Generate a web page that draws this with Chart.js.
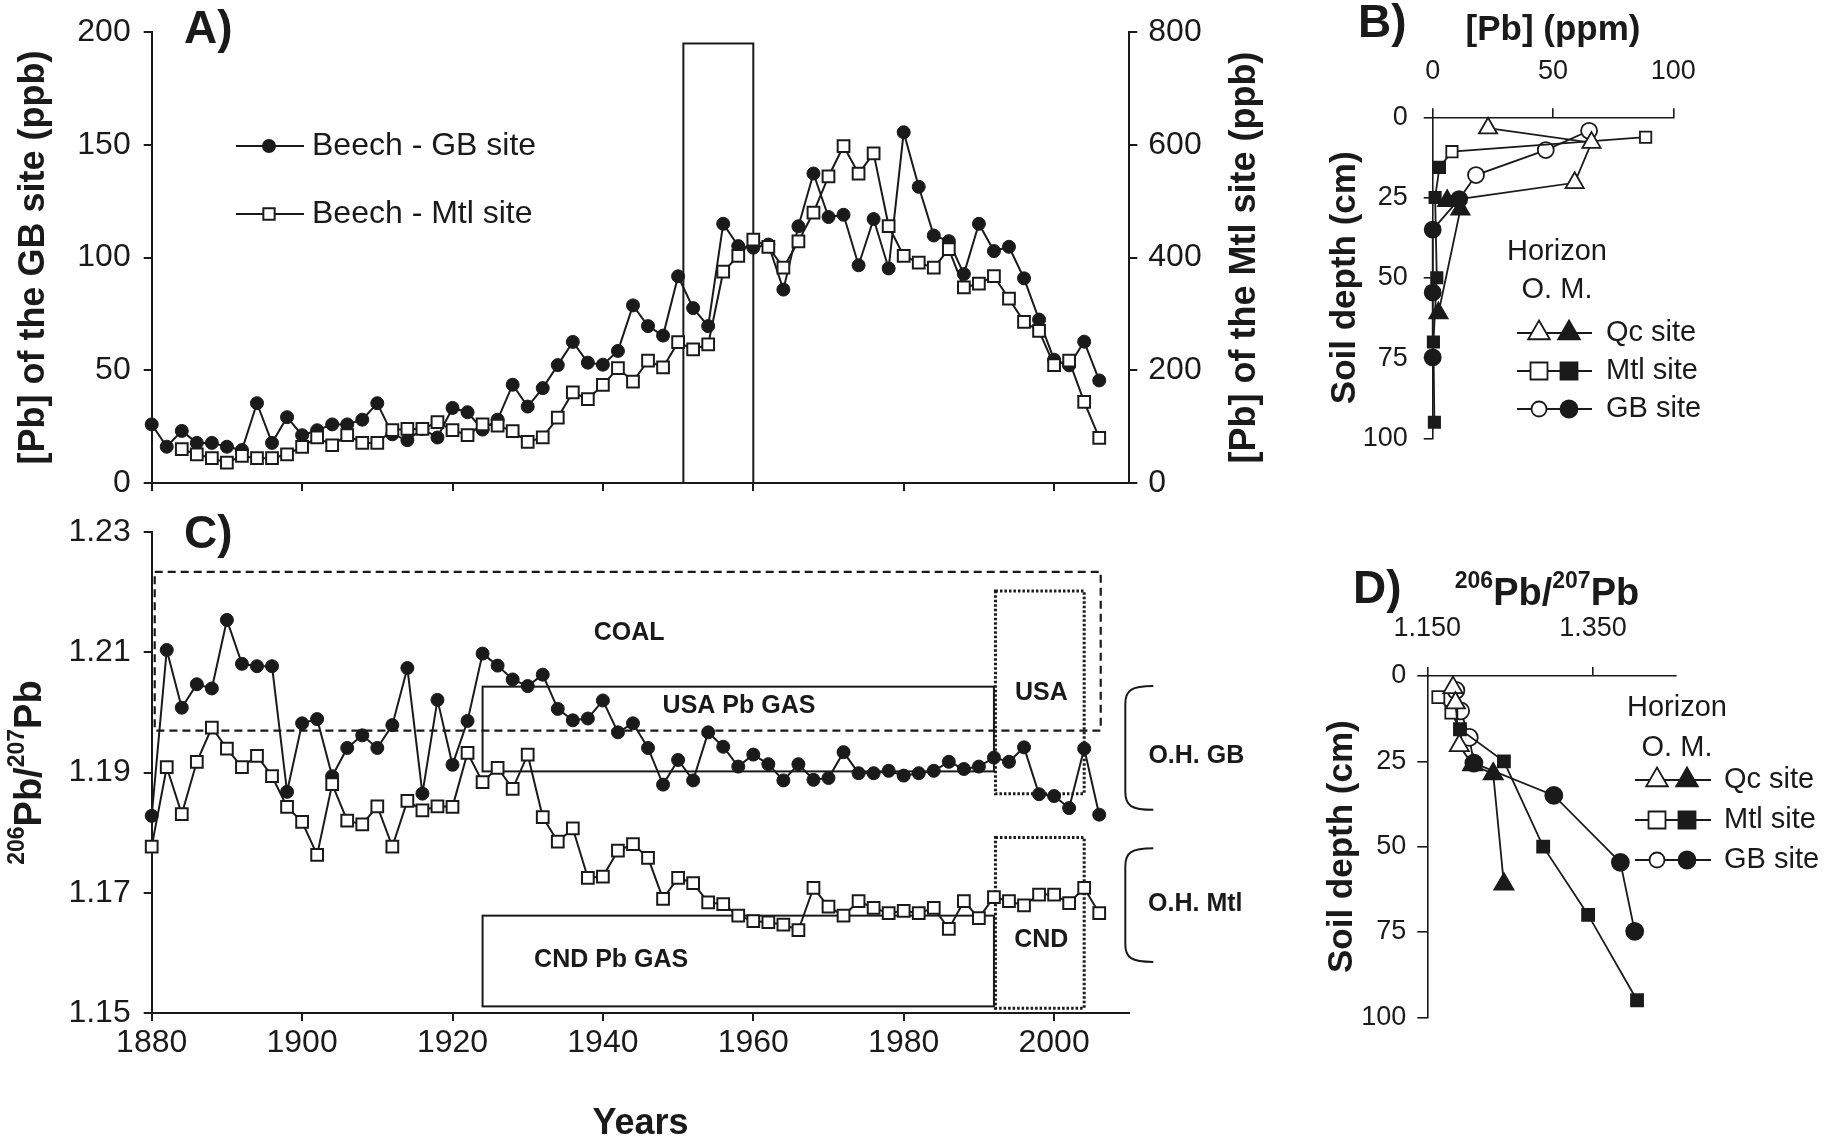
<!DOCTYPE html>
<html>
<head>
<meta charset="utf-8">
<script src="https://cdn.jsdelivr.net/npm/chart.js@4.4.1/dist/chart.umd.min.js"></script>
<style>
  html, body { margin: 0; padding: 0; background: #fff; }
  #page { position: relative; width: 1827px; height: 1137px; overflow: hidden; background: #fff; }
  #page canvas { position: absolute; }
</style>
</head>
<body>
<div id="page">
  <canvas id="chartA" width="1300" height="520" style="left:0px;top:0px;width:1300px;height:520px"></canvas>
  <canvas id="chartC" width="1300" height="637" style="left:0px;top:500px;width:1300px;height:637px"></canvas>
  <canvas id="chartB" width="527" height="480" style="left:1300px;top:0px;width:527px;height:480px"></canvas>
  <canvas id="chartD" width="527" height="597" style="left:1300px;top:540px;width:527px;height:597px"></canvas>
</div>
<script>
// ---- panel A : [Pb] in beech tree rings ----
var gbYears = [1880,1882,1884,1886,1888,1890,1892,1894,1896,1898,
  1900,1902,1904,1906,1908,1910,1912,1914,1916,1918,
  1920,1922,1924,1926,1928,1930,1932,1934,1936,1938,
  1940,1942,1944,1946,1948,1950,1952,1954,1956,1958,
  1960,1962,1964,1966,1968,1970,1972,1974,1976,1978,
  1980,1982,1984,1986,1988,1990,1992,1994,1996,1998,
  2000,2002,2004,2006];
var gbPb = [26.0,16.1,23.1,17.8,17.8,16.1,14.6,35.4,17.8,29.2,
  21.2,23.4,26.0,26.0,28.1,35.4,21.6,19.0,24.0,20.2,
  33.3,31.4,23.7,28.1,43.6,33.9,42.1,52.3,62.6,53.4,
  52.5,58.6,78.8,69.6,65.4,91.7,77.6,69.6,115.0,105.1,
  104.4,105.8,85.8,113.9,137.3,118.0,119.0,96.6,117.1,95.2,
  155.6,131.4,109.8,107.3,92.7,115.0,102.9,104.8,90.8,72.5,
  54.7,52.2,62.7,45.5];
var mtlYears = [1884,1886,1888,1890,1892,1894,1896,1898,
  1900,1902,1904,1906,1908,1910,1912,1914,1916,1918,
  1920,1922,1924,1926,1928,1930,1932,1934,1936,1938,
  1940,1942,1944,1946,1948,1950,1952,1954,1956,1958,
  1960,1962,1964,1966,1968,1970,1972,1974,1976,1978,
  1980,1982,1984,1986,1988,1990,1992,1994,1996,1998,
  2000,2002,2004,2006];
var mtlPb = [60,51,44,36,48,44,44,51,
  64,81,67,85,71,71,94,96,96,108,
  94,85,104,102,92,73,81,116,161,149,
  174,204,180,217,205,250,237,246,375,403,
  432,419,382,429,480,544,598,549,585,456,
  403,391,382,415,347,354,367,327,286,270,
  209,217,144,80];
var leadBoxYears = [1950.7, 1960];
var leadBoxPb = [0, 195];

// ---- panel C : 206Pb/207Pb in tree rings ----
var ratioYears = gbYears;
var gbRatio = [1.1828,1.2104,1.2008,1.2047,1.2040,1.2154,1.2081,1.2077,1.2077,1.1868,
  1.1982,1.1989,1.1894,1.1941,1.1962,1.1941,1.1979,1.2074,1.1865,1.2021,
  1.1913,1.1986,1.2098,1.2078,1.2055,1.2044,1.2063,1.2006,1.1987,1.1990,
  1.2020,1.1967,1.1982,1.1941,1.1880,1.1921,1.1887,1.1967,1.1943,1.1910,
  1.1930,1.1914,1.1887,1.1914,1.1888,1.1891,1.1934,1.1899,1.1899,1.1903,
  1.1895,1.1899,1.1903,1.1918,1.1906,1.1910,1.1925,1.1918,1.1942,1.1864,
  1.1861,1.1841,1.1940,1.1830];
var mtlRatio = [1.1777,1.1909,1.1831,1.1918,1.1975,1.1940,1.1909,1.1928,1.1894,1.1843,
  1.1818,1.1763,1.1881,1.1820,1.1814,1.1844,1.1777,1.1853,1.1837,1.1844,
  1.1843,1.1933,1.1884,1.1908,1.1873,1.1930,1.1826,1.1785,1.1807,1.1725,
  1.1727,1.1770,1.1781,1.1758,1.1690,1.1725,1.1716,1.1684,1.1681,1.1662,
  1.1653,1.1651,1.1647,1.1638,1.1708,1.1677,1.1662,1.1686,1.1675,1.1666,
  1.1670,1.1666,1.1675,1.1640,1.1686,1.1658,1.1693,1.1686,1.1679,1.1697,
  1.1697,1.1683,1.1708,1.1666];
// source signature fields: [year from, year to], [ratio low, ratio high]
var coalYears = [1880.4, 2006.2], coalRatio = [1.1970, 1.2234];
var usaGasYears = [1924, 1992],   usaGasRatio = [1.1902, 1.2043];
var cndGasYears = [1924, 1992],   cndGasRatio = [1.1511, 1.1662];
var usaYears = [1992.2, 2004],    usaRatio = [1.1865, 1.2202];
var cndYears = [1992.2, 2004],    cndRatio = [1.1508, 1.1792];
var ohGbRatio = [1.1838, 1.2044];
var ohMtlRatio = [1.1585, 1.1774];

// ---- panels B and D : soil profiles (O.M. = organic horizon, then mineral) ----
var qcOmDepth = [3.4, 7.9, 20.4],  qcMinDepth = [26, 28.7, 61];
var mtlOmDepth = [6.2, 10.7],      mtlMinDepth = [15.6, 25, 50, 70, 95];
var gbOmDepth = [4.2, 10.2, 18],   gbMinDepth = [25.5, 35, 54.6, 74.8];
var qcOmPb = [23, 66, 59],         qcMinPb = [6, 11.5, 2.4];
var mtlOmPb = [88.5, 8],           mtlMinPb = [2.8, 1, 1.7, 0.3, 0.7];
var gbOmPb = [65, 47, 18],         gbMinPb = [11, 0, 0, 0];
var qcOmRatio = [1.181, 1.184, 1.1886],  qcMinRatio = [1.2046, 1.2295, 1.2424];
var mtlOmRatio = [1.1633, 1.179],        mtlMinRatio = [1.1894, 1.2424, 1.2898, 1.344, 1.403];
var gbOmRatio = [1.1845, 1.1902, 1.2006], gbMinRatio = [1.2062, 1.3026, 1.3829, 1.4002];

// tick labels
var yearTicks = [1880, 1900, 1920, 1940, 1960, 1980, 2000];
var gbPbTicks = [0, 50, 100, 150, 200];
var mtlPbTicks = [0, 200, 400, 600, 800];
var ratioTicks = [1.15, 1.17, 1.19, 1.21, 1.23];
var soilPbTicks = [0, 50, 100];
var soilRatioTicks = [1.15, 1.35];
var depthTicks = [0, 25, 50, 75, 100];

var INK = '#1a1a1a';
var FONT = '"Liberation Sans", Arial, Helvetica, sans-serif';
Chart.defaults.font.family = FONT;
Chart.defaults.color = INK;

function pts(xs, ys) { return xs.map(function (x, i) { return { x: x, y: ys[i] }; }); }

function axis(o) {
  var horiz = o.pos === 'top' || o.pos === 'bottom';
  return {
    type: 'linear', position: o.pos, min: o.min, max: o.max, reverse: !!o.reverse,
    afterBuildTicks: function (s) { s.ticks = o.ticks.map(function (v) { return { value: v }; }); },
    afterFit: function (s) { if (horiz) s.height = o.size; else s.width = o.size; },
    grid: { display: true, drawOnChartArea: false, drawTicks: true, tickLength: o.tl,
            color: INK, tickColor: INK, lineWidth: o.lw, tickWidth: o.lw },
    border: { display: true, color: INK, width: o.lw },
    ticks: { display: o.labels !== false, padding: o.pad || 0, color: INK, autoSkip: false, maxRotation: 0,
             font: { size: o.fs || 12 }, callback: o.fmt || function (v) { return String(v); } }
  };
}

function text(ctx, s, x, y, size, bold, align, base, rot) {
  ctx.save();
  ctx.translate(x, y);
  if (rot) ctx.rotate(rot);
  ctx.font = (bold ? 'bold ' : '') + size + 'px ' + FONT;
  ctx.fillStyle = INK;
  ctx.textAlign = align || 'center';
  ctx.textBaseline = base || 'middle';
  ctx.fillText(s, 0, 0);
  ctx.restore();
}

function isoTitle(ctx, x, y, rot) {
  var parts = [['206', true], ['Pb/', false], ['207', true], ['Pb', false]];
  ctx.save();
  ctx.translate(x, y);
  if (rot) ctx.rotate(rot);
  ctx.fillStyle = INK; ctx.textAlign = 'left'; ctx.textBaseline = 'alphabetic';
  var widths = [], total = 0;
  parts.forEach(function (p) {
    ctx.font = 'bold ' + (p[1] ? 23 : 38) + 'px ' + FONT;
    var w = ctx.measureText(p[0]).width; widths.push(w); total += w;
  });
  var cx = -total / 2;
  parts.forEach(function (p, i) {
    ctx.font = 'bold ' + (p[1] ? 23 : 38) + 'px ' + FONT;
    ctx.fillText(p[0], cx, p[1] ? -17 : 0);
    cx += widths[i];
  });
  ctx.restore();
}

function mark(ctx, style, x, y, r, filled, lw) {
  ctx.save();
  ctx.beginPath();
  if (style === 'circle') {
    ctx.arc(x, y, r, 0, Math.PI * 2);
  } else if (style === 'rect') {
    var s = r * Math.SQRT1_2;
    ctx.rect(x - s, y - s, 2 * s, 2 * s);
  } else {
    for (var k = 0; k < 3; k++) {
      var a = k * 2 * Math.PI / 3;
      var px = x + Math.sin(a) * r, py = y - Math.cos(a) * r;
      if (k === 0) ctx.moveTo(px, py); else ctx.lineTo(px, py);
    }
    ctx.closePath();
  }
  ctx.fillStyle = filled ? INK : '#fff';
  ctx.fill();
  ctx.lineWidth = lw; ctx.strokeStyle = INK;
  ctx.stroke();
  ctx.restore();
}

function hline(ctx, x0, x1, y, lw) {
  ctx.save(); ctx.beginPath(); ctx.moveTo(x0, y); ctx.lineTo(x1, y);
  ctx.lineWidth = lw; ctx.strokeStyle = INK; ctx.stroke(); ctx.restore();
}

function off(chart) { return { x: chart.canvas.offsetLeft, y: chart.canvas.offsetTop }; }

function boxIn(chart, xr, yr, yId, dash, lw) {
  var xs = chart.scales.x, ys = chart.scales[yId || 'y'];
  var a = xs.getPixelForValue(xr[0]), b = xs.getPixelForValue(xr[1]);
  var t = ys.getPixelForValue(yr[1]), d = ys.getPixelForValue(yr[0]);
  var ctx = chart.ctx;
  ctx.save();
  ctx.setLineDash(dash || []);
  ctx.lineWidth = lw || 2; ctx.strokeStyle = INK;
  ctx.strokeRect(a, t, b - a, d - t);
  ctx.restore();
}

function brace(ctx, x0, x1, yTop, yBot) {
  ctx.save();
  ctx.beginPath();
  ctx.moveTo(x1, yTop);
  ctx.bezierCurveTo(x0 + 6, yTop, x0, yTop + 4, x0, yTop + 18);
  ctx.lineTo(x0, yBot - 18);
  ctx.bezierCurveTo(x0, yBot - 4, x0 + 6, yBot, x1, yBot);
  ctx.lineWidth = 2; ctx.strokeStyle = INK; ctx.stroke();
  ctx.restore();
}

var common = {
  responsive: false, animation: false, events: [],
  plugins: { legend: { display: false }, tooltip: { enabled: false } },
  elements: { line: { tension: 0 } }
};

function opts(extra) { return Object.assign({}, common, extra); }

function seriesStyle(style, r, filledFlags, lw, bw) {
  return {
    showLine: true, clip: false, borderColor: INK, borderWidth: lw,
    pointStyle: style, pointRadius: r, pointBorderWidth: bw, pointBorderColor: INK,
    pointBackgroundColor: filledFlags.map(function (f) { return f ? INK : '#fff'; })
  };
}

function flags(om, min) { return om.map(function () { return false; }).concat(min.map(function () { return true; })); }

// ---------------- Panel A ----------------
var decorA = {
  id: 'decorA',
  beforeDatasetsDraw: function (chart) { boxIn(chart, leadBoxYears, leadBoxPb, 'y', null, 2); },
  afterDraw: function (chart) {
    var ctx = chart.ctx, o = off(chart);
    text(ctx, 'A)', 184 - o.x, 43 - o.y, 46, true, 'left', 'alphabetic');
    text(ctx, '[Pb] of the GB site (ppb)', 34, (chart.chartArea.top + chart.chartArea.bottom) / 2, 36, true, 'center', 'middle', -Math.PI / 2);
    text(ctx, '[Pb] of the Mtl site (ppb)', 1245, (chart.chartArea.top + chart.chartArea.bottom) / 2, 36, true, 'center', 'middle', -Math.PI / 2);
    hline(ctx, 236, 304, 146, 2); mark(ctx, 'circle', 269, 146, 6, true, 2);
    text(ctx, 'Beech - GB site', 312, 146, 32, false, 'left', 'middle');
    hline(ctx, 236, 304, 214, 2); mark(ctx, 'rect', 269, 214, 8, false, 2);
    text(ctx, 'Beech - Mtl site', 312, 214, 32, false, 'left', 'middle');
  }
};

new Chart(document.getElementById('chartA'), {
  type: 'scatter',
  data: { datasets: [
    Object.assign({ label: 'Beech - Mtl site', data: pts(mtlYears, mtlPb), yAxisID: 'y2', order: 0 },
      seriesStyle('rect', 8.3, mtlPb.map(function () { return false; }), 2, 2)),
    Object.assign({ label: 'Beech - GB site', data: pts(gbYears, gbPb), yAxisID: 'y', order: 1 },
      seriesStyle('circle', 6.5, gbPb.map(function () { return true; }), 2, 1))
  ] },
  options: opts({
    layout: { padding: { left: 0, top: 26, right: 0, bottom: 0 } },
    scales: {
      x: axis({ pos: 'bottom', min: 1880, max: 2010, ticks: yearTicks, size: 37, tl: 8, lw: 2, labels: false }),
      y: axis({ pos: 'left', min: 0, max: 200, ticks: gbPbTicks, size: 151.7, tl: 8, lw: 2, fs: 32, pad: 13 }),
      y2: axis({ pos: 'right', min: 0, max: 800, ticks: mtlPbTicks, size: 170.7, tl: 8, lw: 2, fs: 32, pad: 11 })
    }
  }),
  plugins: [decorA]
});

// ---------------- Panel C ----------------
var decorC = {
  id: 'decorC',
  beforeDatasetsDraw: function (chart) {
    boxIn(chart, coalYears, coalRatio, 'y', [8, 5], 2.2);
    boxIn(chart, usaGasYears, usaGasRatio, 'y', null, 2);
    boxIn(chart, cndGasYears, cndGasRatio, 'y', null, 2);
    boxIn(chart, usaYears, usaRatio, 'y', [2.5, 2], 3);
    boxIn(chart, cndYears, cndRatio, 'y', [2.5, 2], 3);
  },
  afterDraw: function (chart) {
    var ctx = chart.ctx, o = off(chart), xs = chart.scales.x, ys = chart.scales.y, ca = chart.chartArea;
    text(ctx, 'C)', 184 - o.x, 548 - o.y, 46, true, 'left', 'alphabetic');
    isoTitle(ctx, 41, (ca.top + ca.bottom) / 2, -Math.PI / 2);
    text(ctx, 'Years', (ca.left + ca.right) / 2, 1134 - o.y, 36, true, 'center', 'alphabetic');
    text(ctx, 'COAL', xs.getPixelForValue(1943.5), ys.getPixelForValue(1.2132), 25, true);
    text(ctx, 'USA Pb GAS', xs.getPixelForValue(1958.1), ys.getPixelForValue(1.2010), 25, true);
    text(ctx, 'CND Pb GAS', xs.getPixelForValue(1941.1), ys.getPixelForValue(1.1588), 25, true);
    text(ctx, 'USA', xs.getPixelForValue(1998.3), ys.getPixelForValue(1.2033), 25, true);
    text(ctx, 'CND', xs.getPixelForValue(1998.3), ys.getPixelForValue(1.1622), 25, true);
    brace(ctx, ca.right - 4, ca.right + 24, ys.getPixelForValue(ohGbRatio[1]), ys.getPixelForValue(ohGbRatio[0]));
    brace(ctx, ca.right - 4, ca.right + 24, ys.getPixelForValue(ohMtlRatio[1]), ys.getPixelForValue(ohMtlRatio[0]));
    text(ctx, 'O.H. GB', ca.right + 67, ys.getPixelForValue(1.1927), 25, true);
    text(ctx, 'O.H. Mtl', ca.right + 66, ys.getPixelForValue(1.1682), 25, true);
  }
};

new Chart(document.getElementById('chartC'), {
  type: 'scatter',
  data: { datasets: [
    Object.assign({ label: 'Beech - Mtl site', data: pts(ratioYears, mtlRatio), order: 0 },
      seriesStyle('rect', 8.3, mtlRatio.map(function () { return false; }), 2, 2)),
    Object.assign({ label: 'Beech - GB site', data: pts(ratioYears, gbRatio), order: 1 },
      seriesStyle('circle', 6.5, gbRatio.map(function () { return true; }), 2, 1))
  ] },
  options: opts({
    layout: { padding: { left: 0, top: 29.3, right: 170.7, bottom: 0 } },
    scales: {
      x: axis({ pos: 'bottom', min: 1880, max: 2010, ticks: yearTicks, size: 124, tl: 8, lw: 2, fs: 32, pad: 3 }),
      y: axis({ pos: 'left', min: 1.15, max: 1.23, ticks: ratioTicks, size: 151.7, tl: 8, lw: 2, fs: 32, pad: 13,
                fmt: function (v) { return v.toFixed(2); } })
    }
  }),
  plugins: [decorC]
});

// ---------------- Panels B and D ----------------
function soilLegend(ctx, o, cx, y0, y1, rows, x0, x1, xo, xf, xt) {
  text(ctx, 'Horizon', cx - o.x, y0 - o.y, 29, false);
  text(ctx, 'O. M.', cx - o.x, y1 - o.y, 29, false);
  var styles = [['triangle', 12.5, 'Qc site'], ['rect', 12, 'Mtl site'], ['circle', 8.5, 'GB site']];
  styles.forEach(function (s, i) {
    var y = rows[i] - o.y;
    hline(ctx, x0 - o.x, x1 - o.x, y, 1.8);
    mark(ctx, s[0], xo - o.x, y, s[0] === 'circle' ? 7.5 : s[1], false, 1.8);
    mark(ctx, s[0], xf - o.x, y, s[1], true, 1.8);
    text(ctx, s[2], xt - o.x, y, 29, false, 'left', 'middle');
  });
}

function soilSets(xQcOm, xQcMin, xMtlOm, xMtlMin, xGbOm, xGbMin, big) {
  return [
    Object.assign({ label: 'Qc site', data: pts(xQcOm.concat(xQcMin), qcOmDepth.concat(qcMinDepth)) },
      seriesStyle('triangle', big ? 11 : 10.5, flags(xQcOm, xQcMin), 1.8, 1.8)),
    Object.assign({ label: 'Mtl site', data: pts(xMtlOm.concat(xMtlMin), mtlOmDepth.concat(mtlMinDepth)) },
      seriesStyle('rect', big ? 8.5 : 8, flags(xMtlOm, xMtlMin), 1.8, 1.8)),
    Object.assign({ label: 'GB site', data: pts(xGbOm.concat(xGbMin), gbOmDepth.concat(gbMinDepth)) },
      seriesStyle('circle', big ? 8.5 : 8, flags(xGbOm, xGbMin), 1.8, 1.8))
  ];
}

var decorB = {
  id: 'decorB',
  afterDraw: function (chart) {
    var ctx = chart.ctx, o = off(chart), ca = chart.chartArea;
    text(ctx, 'B)', 1358 - o.x, 37 - o.y, 46, true, 'left', 'alphabetic');
    text(ctx, '[Pb] (ppm)', (ca.left + ca.right) / 2, 30 - o.y, 35, true);
    text(ctx, 'Soil depth (cm)', 1345 - o.x, (ca.top + ca.bottom) / 2, 35, true, 'center', 'middle', -Math.PI / 2);
    soilLegend(ctx, o, 1557, 252, 290, [333, 371, 409], 1517, 1592, 1539, 1569, 1606);
  }
};

new Chart(document.getElementById('chartB'), {
  type: 'scatter',
  data: { datasets: soilSets(qcOmPb, qcMinPb, mtlOmPb, mtlMinPb, gbOmPb, gbMinPb, false) },
  options: opts({
    layout: { padding: { left: 0, top: 0, right: 153.7, bottom: 41.7 } },
    scales: {
      x: axis({ pos: 'top', min: 0, max: 100, ticks: soilPbTicks, size: 117.3, tl: 9, lw: 1.6, fs: 27, pad: 21 }),
      y: axis({ pos: 'left', min: 0, max: 100, reverse: true, ticks: depthTicks, size: 132.7, tl: 9, lw: 1.6, fs: 27, pad: 16 })
    }
  }),
  plugins: [decorB]
});

var decorD = {
  id: 'decorD',
  afterDraw: function (chart) {
    var ctx = chart.ctx, o = off(chart), ca = chart.chartArea;
    text(ctx, 'D)', 1353 - o.x, 603 - o.y, 46, true, 'left', 'alphabetic');
    isoTitle(ctx, 1547 - o.x, 605 - o.y, 0);
    text(ctx, 'Soil depth (cm)', 1342 - o.x, (ca.top + ca.bottom) / 2, 35, true, 'center', 'middle', -Math.PI / 2);
    soilLegend(ctx, o, 1677, 708, 748, [780, 820, 860], 1635, 1711, 1657, 1687, 1724);
  }
};

new Chart(document.getElementById('chartD'), {
  type: 'scatter',
  data: { datasets: soilSets(qcOmRatio, qcMinRatio, mtlOmRatio, mtlMinRatio, gbOmRatio, gbMinRatio, true) },
  options: opts({
    layout: { padding: { left: 0, top: 0, right: 151, bottom: 119.7 } },
    scales: {
      x: axis({ pos: 'top', min: 1.15, max: 1.45, ticks: soilRatioTicks, size: 136, tl: 9, lw: 1.6, fs: 27, pad: 22,
                fmt: function (v) { return v.toFixed(3); } }),
      y: axis({ pos: 'left', min: 0, max: 100, reverse: true, ticks: depthTicks, size: 127.3, tl: 10, lw: 1.6, fs: 27, pad: 11 })
    }
  }),
  plugins: [decorD]
});
</script>
</body>
</html>
